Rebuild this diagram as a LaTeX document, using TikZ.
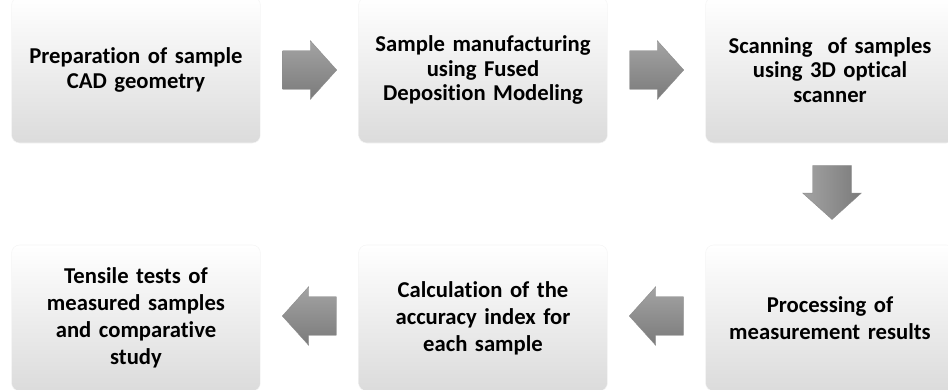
\documentclass[tikz,border=0pt]{standalone}
\usepackage{fontspec}
\setmainfont{Carlito}[Ligatures=NoCommon]
\usetikzlibrary{shapes.arrows,calc}

\tikzset{
  stepbox/.style={rectangle, rounded corners=6pt, draw=black!4,
    top color=white, middle color=white, bottom color=black!14,
    minimum width=186pt, minimum height=109.5pt, text width=180pt,
    align=center, font=\bfseries\fontsize{17}{18.5}\selectfont},
  lowbox/.style={stepbox, font=\bfseries\fontsize{17}{20.3}\selectfont},
  blockarrow/.style={single arrow, draw=black!45, line width=0.3pt,
    top color=black!36, bottom color=black!52,
    minimum height=40.5pt, minimum width=44pt,
    single arrow head extend=7.5pt, single arrow tip angle=96,
    inner xsep=0pt, inner ysep=14.25pt, anchor=tail},
  downarrow/.style={blockarrow, shape border rotate=270,
    left color=black!36, right color=black!52,
    inner xsep=14.25pt, inner ysep=0pt}
}

\begin{document}
\begin{tikzpicture}[x=0.75pt,y=-0.75pt]
  \useasboundingbox (0,0) rectangle (948,389);
  \clip (0,0) rectangle (948,389);

  % top row
  \node[stepbox] (prep) at (136,70) {Preparation of sample\\CAD geometry};
  \node[stepbox] (fdm)  at (483,70) {Sample manufacturing\\using Fused\\Deposition Modeling};
  \node[stepbox] (scan) at (830,70) {Scanning~~of samples\\using 3D optical\\scanner};

  % bottom row
  \node[lowbox] (tens) at (136,318) {Tensile tests of\\measured samples\\and comparative\\study};
  \node[lowbox] (calc) at (483,318) {Calculation of the\\accuracy index for\\each sample};
  \node[lowbox] (proc) at (830,318) {Processing of\\measurement results};

  % arrows between the steps (placed by their tails)
  \node[blockarrow] (a1) at ($(prep.east)!0.5!(fdm.west)+(-27,0)$) {};
  \node[blockarrow] (a2) at ($(fdm.east)!0.5!(scan.west)+(-27,0)$) {};
  \node[downarrow] (a3) at ($(scan.south)+(2,22)$) {};
  \node[blockarrow, shape border rotate=180] (a4) at ($(proc.west)!0.5!(calc.east)+(27,-2)$) {};
  \node[blockarrow, shape border rotate=180] (a5) at ($(calc.west)!0.5!(tens.east)+(27,-2)$) {};
\end{tikzpicture}
\end{document}
